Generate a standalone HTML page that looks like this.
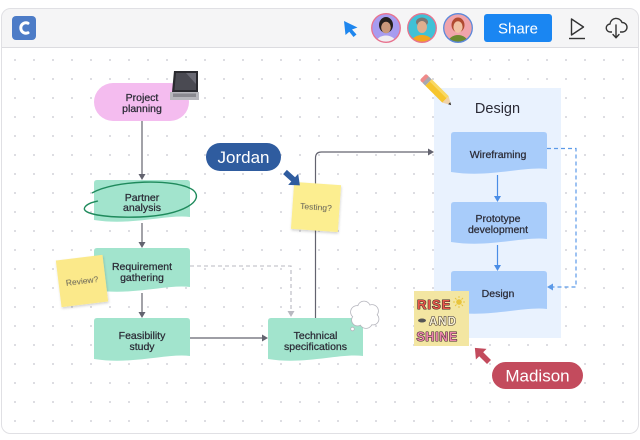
<!DOCTYPE html>
<html><head><meta charset="utf-8"><style>
html,body{margin:0;padding:0;background:#fff;width:640px;height:440px;overflow:hidden}
svg{display:block}
text{font-family:"Liberation Sans","DejaVu Sans",sans-serif}
.n{stroke:#2b2b36;stroke-width:0.25}
</style></head><body>
<svg width="640" height="440" viewBox="0 0 640 440" xmlns="http://www.w3.org/2000/svg">
<defs>
<pattern id="dots" x="5.5" y="50.5" width="19" height="19" patternUnits="userSpaceOnUse">
<circle cx="9.5" cy="9.5" r="1" fill="#d2d2d8"/>
</pattern>
<clipPath id="card"><rect x="1.5" y="8.5" width="637" height="425" rx="9"/></clipPath>
<clipPath id="a1"><circle cx="386" cy="28" r="14"/></clipPath>
<clipPath id="a2"><circle cx="422" cy="28" r="14"/></clipPath>
<clipPath id="a3"><circle cx="458" cy="28" r="14"/></clipPath>
<filter id="sh" x="-20%" y="-20%" width="140%" height="140%"><feDropShadow dx="0.5" dy="1.5" stdDeviation="1.2" flood-color="#000" flood-opacity="0.18"/></filter>
</defs>

<!-- card -->
<rect x="1.5" y="8.5" width="637" height="425" rx="9" fill="#fff"/>
<g clip-path="url(#card)">
  <rect x="0" y="0" width="640" height="47" fill="#f5f5f6"/>
  <rect x="0" y="48" width="640" height="392" fill="url(#dots)"/>
  <line x1="0" y1="47.5" x2="640" y2="47.5" stroke="#dcdce0" stroke-width="1"/>
</g>
<rect x="1.5" y="8.5" width="637" height="425" rx="9" fill="none" stroke="#e0e0e4" stroke-width="1"/>

<!-- toolbar -->
<rect x="12" y="16" width="24" height="24" rx="4" fill="#4d7cc7"/>
<path d="M28 23.2 A5.2 5.2 0 1 0 28 32.8" fill="none" stroke="#fff" stroke-width="3" stroke-linecap="round"/>

<path d="M344 21 L357.5 27.5 L352 29.5 L356.5 34.5 L353.5 37 L349.3 31.8 L345.5 35 Z" fill="#1e86ee"/>

<g clip-path="url(#a1)">
  <rect x="370" y="12" width="32" height="32" fill="#a79cf0"/>
  <ellipse cx="386" cy="25" rx="7" ry="8" fill="#24201e"/>
  <ellipse cx="386" cy="27.5" rx="4.8" ry="5.8" fill="#c9987a"/>
  <ellipse cx="386" cy="43" rx="10" ry="7.5" fill="#f0eef2"/>
</g>
<circle cx="386" cy="28" r="14.3" fill="none" stroke="#e8728e" stroke-width="1.3"/>

<g clip-path="url(#a2)">
  <rect x="406" y="12" width="32" height="32" fill="#3fc1d6"/>
  <ellipse cx="422" cy="22" rx="6" ry="4.5" fill="#7c7672"/>
  <ellipse cx="422" cy="27" rx="5" ry="6" fill="#dfae8e"/>
  <ellipse cx="422" cy="43" rx="11" ry="8" fill="#f2a51e"/>
</g>
<circle cx="422" cy="28" r="14.3" fill="none" stroke="#e8728e" stroke-width="1.3"/>

<g clip-path="url(#a3)">
  <rect x="442" y="12" width="32" height="32" fill="#f0a4ab"/>
  <ellipse cx="458" cy="25" rx="6.5" ry="7.5" fill="#b04a30"/>
  <ellipse cx="458" cy="27" rx="4.6" ry="5.8" fill="#f0c2a4"/>
  <ellipse cx="458" cy="43" rx="10" ry="8" fill="#6c8a30"/>
</g>
<circle cx="458" cy="28" r="14.3" fill="none" stroke="#5c88da" stroke-width="1.3"/>

<rect x="484" y="14" width="68" height="28" rx="3" fill="#1a86f2"/>
<text x="518" y="33.5" font-size="15" fill="#fff" text-anchor="middle">Share</text>

<path d="M571.5 19 L583.5 27 L571.5 35 Z" fill="none" stroke="#333" stroke-width="1.4" stroke-linejoin="round"/>
<line x1="569" y1="38.5" x2="585" y2="38.5" stroke="#333" stroke-width="1.4"/>

<path d="M612 32 H610.5 A4 4 0 0 1 610 24 A6.2 6.2 0 0 1 622 22.5 A4.6 4.6 0 0 1 622.5 32 H620" fill="none" stroke="#333" stroke-width="1.4" stroke-linejoin="round"/>
<path d="M616 25 V37.5 M613 34.5 L616 37.8 L619 34.5" fill="none" stroke="#333" stroke-width="1.4" stroke-linecap="round" stroke-linejoin="round"/>

<!-- connectors (gray) -->
<g stroke="#63636f" stroke-width="1.2" fill="none">
  <line x1="142" y1="121" x2="142" y2="175"/>
  <line x1="142" y1="223" x2="142" y2="243"/>
  <line x1="142" y1="293" x2="142" y2="313"/>
  <line x1="190" y1="338" x2="263" y2="338"/>
  <path d="M315.5 318 V158 Q315.5 152 321.5 152 H429"/>
</g>
<g fill="#63636f">
  <polygon points="138.5,174 145.5,174 142,180"/>
  <polygon points="138.5,242 145.5,242 142,248"/>
  <polygon points="138.5,312 145.5,312 142,318"/>
  <polygon points="262,334.5 262,341.5 268,338"/>
  <polygon points="428,148.5 428,155.5 434,152"/>
</g>
<path d="M190 266 H291 V311" fill="none" stroke="#b9b9c1" stroke-width="1.1" stroke-dasharray="4 3"/>
<polygon points="287.5,311 294.5,311 291,317" fill="#b9b9c1"/>

<!-- left nodes -->
<rect x="94" y="83" width="95" height="38" rx="19" fill="#f4bcef"/>
<text class="n" x="142" y="101" font-size="10.5" fill="#2b2b36" text-anchor="middle">Project</text>
<text class="n" x="142" y="112" font-size="10.5" fill="#2b2b36" text-anchor="middle">planning</text>

<!-- laptop -->
<polygon points="174,71 198,71 198,92 172,92" fill="#2a2a2f"/>
<polygon points="176,73 196,73 196,90 174.5,90" fill="#4a4a52"/>
<polygon points="186,73 196,73 196,84" fill="#6a6a74"/>
<polygon points="170,92 199,92 199,100 170,100" fill="#b7b7bc"/>
<rect x="173" y="93.5" width="23" height="3.5" fill="#8a8a90"/>

<path d="M97 180 H187 Q190 180 190 183 V217 C167.6 214 132.4 226 94 220 V183 Q94 180 97 180 Z" fill="#a2e4cd"/>
<text class="n" x="142" y="201" font-size="10.5" fill="#2b2b36" text-anchor="middle">Partner</text>
<text class="n" x="142" y="211" font-size="10.5" fill="#2b2b36" text-anchor="middle">analysis</text>
<path d="M92 193 C115 180 175 178 193 190 C205 200 185 215 140 217 C105 218 80 214 85 207 C88 203 94 202 98 201" fill="none" stroke="#1f8a5c" stroke-width="1.4"/>

<path d="M97 248 H187 Q190 248 190 251 V287 C167.6 284 132.4 296 94 290 V251 Q94 248 97 248 Z" fill="#a2e4cd"/>
<text class="n" x="142" y="270" font-size="10.5" fill="#2b2b36" text-anchor="middle">Requirement</text>
<text class="n" x="142" y="281" font-size="10.5" fill="#2b2b36" text-anchor="middle">gathering</text>

<path d="M97 318 H187 Q190 318 190 321 V356 C167.6 353 132.4 365 94 359 V321 Q94 318 97 318 Z" fill="#a2e4cd"/>
<text class="n" x="142" y="339" font-size="10.5" fill="#2b2b36" text-anchor="middle">Feasibility</text>
<text class="n" x="142" y="350" font-size="10.5" fill="#2b2b36" text-anchor="middle">study</text>

<path d="M271 318 H360 Q363 318 363 321 V356 C340.2 353 304.9 365 268 359 V321 Q268 318 271 318 Z" fill="#a2e4cd"/>
<text class="n" x="315.5" y="339" font-size="10.5" fill="#2b2b36" text-anchor="middle">Technical</text>
<text class="n" x="315.5" y="350" font-size="10.5" fill="#2b2b36" text-anchor="middle">specifications</text>

<!-- thought cloud -->
<g stroke="#b4b4bc" stroke-width="1.6" fill="#fff">
  <circle cx="357" cy="312" r="6"/><circle cx="364" cy="307.5" r="6"/><circle cx="372" cy="311" r="6"/>
  <circle cx="373" cy="319" r="5.5"/><circle cx="366" cy="322" r="6"/><circle cx="357.5" cy="320" r="5.5"/>
</g>
<g fill="#fff">
  <circle cx="357" cy="312" r="6"/><circle cx="364" cy="307.5" r="6"/><circle cx="372" cy="311" r="6"/>
  <circle cx="373" cy="319" r="5.5"/><circle cx="366" cy="322" r="6"/><circle cx="357.5" cy="320" r="5.5"/>
  <circle cx="365" cy="315" r="6"/>
</g>
<circle cx="352.5" cy="329" r="1.8" fill="#fff" stroke="#b4b4bc" stroke-width="0.8"/>

<!-- Review sticky -->
<g transform="translate(82 281) rotate(-7)" filter="url(#sh)">
  <rect x="-23.5" y="-23.5" width="47" height="47" fill="#fbe98a"/>
  <text x="0" y="3" font-size="8.5" fill="#555" text-anchor="middle">Review?</text>
</g>

<!-- Testing sticky -->
<g transform="translate(316 207) rotate(4)" filter="url(#sh)">
  <rect x="-23.5" y="-23.5" width="47" height="47" fill="#fcee90"/>
  <text x="0" y="3" font-size="8.5" fill="#555" text-anchor="middle">Testing?</text>
</g>

<!-- Jordan -->
<rect x="206" y="143" width="75" height="28" rx="14" fill="#2f5c9f"/>
<text x="243.5" y="163" font-size="17" fill="#fff" text-anchor="middle">Jordan</text>
<g transform="translate(285 172) rotate(42)">
  <polygon points="0,-2.8 11,-2.8 11,-7.5 20,0 11,7.5 11,2.8 0,2.8" fill="#2f5c9f"/>
</g>

<!-- Design container -->
<rect x="434" y="88" width="127" height="250" fill="#e9f2fe"/>
<text x="497.5" y="113" font-size="14.5" fill="#2b2b36" text-anchor="middle">Design</text>

<!-- pencil -->
<g transform="translate(437 91) rotate(45)">
  <rect x="-20" y="-4.5" width="5" height="9" rx="2" fill="#ef8a8a"/>
  <rect x="-16" y="-4.5" width="4" height="9" fill="#a8a8b0"/>
  <rect x="-12" y="-4.5" width="24" height="9" fill="#f6c52e"/>
  <rect x="-12" y="-4.5" width="24" height="3" fill="#f9d862"/>
  <polygon points="12,-4.5 20,0 12,4.5" fill="#f0d2a8"/>
  <polygon points="17.3,-1.5 20,0 17.3,1.5" fill="#333"/>
</g>

<!-- blue connectors -->
<g stroke="#4a8de6" stroke-width="1.2" fill="none">
  <line x1="497.5" y1="175" x2="497.5" y2="197"/>
  <line x1="497.5" y1="245" x2="497.5" y2="266"/>
</g>
<g fill="#4a8de6">
  <polygon points="494,196 501,196 497.5,202"/>
  <polygon points="494,265 501,265 497.5,271"/>
</g>
<path d="M547 148.5 H576 V287 H553" fill="none" stroke="#5c9ae8" stroke-width="1.2" stroke-dasharray="4 3"/>
<polygon points="553,283.5 553,290.5 547,287" fill="#5c9ae8"/>

<!-- blue nodes -->
<path d="M454 132 H544 Q547 132 547 135 V169 C524.6 166 489.6 178 451 172 V135 Q451 132 454 132 Z" fill="#a8ccfa"/>
<text class="n" x="498" y="158" font-size="10.5" fill="#2b2b36" text-anchor="middle">Wireframing</text>

<path d="M454 202 H544 Q547 202 547 205 V239 C524.6 236 489.6 248 451 242 V205 Q451 202 454 202 Z" fill="#a8ccfa"/>
<text class="n" x="498" y="222" font-size="10.5" fill="#2b2b36" text-anchor="middle">Prototype</text>
<text class="n" x="498" y="233" font-size="10.5" fill="#2b2b36" text-anchor="middle">development</text>

<path d="M454 271 H544 Q547 271 547 274 V309 C524.6 306 489.6 318 451 312 V274 Q451 271 454 271 Z" fill="#a8ccfa"/>
<text class="n" x="498" y="297" font-size="10.5" fill="#2b2b36" text-anchor="middle">Design</text>

<!-- Rise and shine sticker -->
<rect x="414" y="291" width="55" height="55" fill="#f3e6a2"/>
<g font-weight="bold" stroke="#3a2a2a" stroke-width="1.1" paint-order="stroke" stroke-linejoin="round">
  <text x="417" y="309" font-size="13" fill="#e8584a" letter-spacing="1">RISE</text>
  <text x="429" y="325" font-size="11.5" fill="#f8f2d4" letter-spacing="1">AND</text>
  <text x="416.5" y="341" font-size="12.5" fill="#ea86ac" letter-spacing="0.6">SHINE</text>
</g>
<circle cx="459" cy="302" r="2.8" fill="#e8c43a"/>
<g stroke="#e8c43a" stroke-width="0.9">
  <line x1="459" y1="296" x2="459" y2="298"/><line x1="459" y1="306" x2="459" y2="308"/>
  <line x1="453" y1="302" x2="455" y2="302"/><line x1="463" y1="302" x2="465" y2="302"/>
  <line x1="455" y1="298" x2="456.5" y2="299.5"/><line x1="461.5" y1="304.5" x2="463" y2="306"/>
  <line x1="463" y1="298" x2="461.5" y2="299.5"/><line x1="456.5" y1="304.5" x2="455" y2="306"/>
</g>
<ellipse cx="422" cy="320.5" rx="4" ry="2" fill="#555"/>

<!-- Madison -->
<g transform="translate(489 362) rotate(-135)">
  <polygon points="0,-2.8 11,-2.8 11,-7.5 20,0 11,7.5 11,2.8 0,2.8" fill="#c34b5d"/>
</g>
<rect x="492" y="362" width="91" height="27" rx="13.5" fill="#c34b5d"/>
<text x="537.5" y="381.5" font-size="17" fill="#fff" text-anchor="middle">Madison</text>
</svg>
</body></html>
